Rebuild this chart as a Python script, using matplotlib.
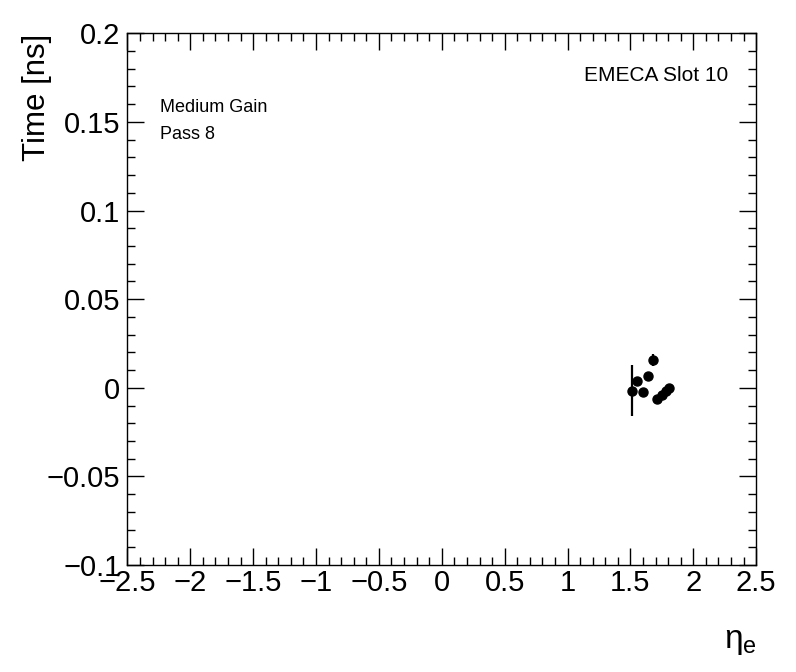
import numpy as np
import matplotlib
matplotlib.use("Agg")
from matplotlib import pyplot as plt
from matplotlib.ticker import MultipleLocator

# eta bins and timing values
eta = [1.513, 1.556, 1.599, 1.641, 1.678, 1.715, 1.750, 1.784, 1.810]
temps = [-0.0017, 0.0036, -0.0023, 0.0066, 0.0156, -0.0062, -0.0041, -0.0019, 0.0000]
erreur = [0.0144, 0.0015, 0.0015, 0.0015, 0.0034, 0.0012, 0.0012, 0.0012, 0.0012]

plt.rcParams['font.family'] = ['Liberation Sans', 'DejaVu Sans']
plt.rcParams['axes.unicode_minus'] = True
plt.rcParams['mathtext.fontset'] = 'custom'
plt.rcParams['mathtext.rm'] = 'Liberation Sans'
plt.rcParams['mathtext.it'] = 'Liberation Sans'

fig = plt.figure(figsize=(7.96, 6.72), dpi=100)
ax = fig.add_axes([0.160, 0.1592, 0.790, 0.7912])

ax.errorbar(eta, temps, yerr=erreur, fmt='o', color='black',
            markersize=6.5, elinewidth=1.6, capsize=0)

ax.set_xlim(-2.5, 2.5)
ax.set_ylim(-0.1, 0.2)
ax.xaxis.set_major_locator(MultipleLocator(0.5))
ax.xaxis.set_minor_locator(MultipleLocator(0.1))
ax.yaxis.set_major_locator(MultipleLocator(0.05))
ax.yaxis.set_minor_locator(MultipleLocator(0.01))
ax.tick_params(which='both', direction='in', top=True, right=True,
               width=1, labelsize=21)
ax.tick_params(which='major', length=12)
ax.tick_params(which='minor', length=6)
ax.tick_params(axis='y', pad=5)
ax.tick_params(axis='x', pad=3)

def fmt(v, pos):
    s = ('%.2f' % v).rstrip('0').rstrip('.')
    if s in ('-0', ''):
        s = '0'
    return s.replace('-', '\u2212')

ax.xaxis.set_major_formatter(plt.FuncFormatter(fmt))
ax.yaxis.set_major_formatter(plt.FuncFormatter(fmt))

for s in ax.spines.values():
    s.set_linewidth(1)

ax.set_ylabel('Time [ns]', fontsize=22.5, loc='top')
ax.yaxis.set_label_coords(-0.12, 1.0)
ax.set_xlabel(r'$\eta_{e}$', fontsize=24, loc='right')
ax.xaxis.set_label_coords(1.0, -0.115)

ax.text(0.0517, 0.861, 'Medium Gain', transform=ax.transAxes,
        fontsize=13, va='center')
ax.text(0.0517, 0.809, 'Pass 8', transform=ax.transAxes,
        fontsize=13, va='center')
ax.text(0.955, 0.9216, 'EMECA Slot 10', transform=ax.transAxes,
        fontsize=15, va='center', ha='right')

fig.savefig('out.png', dpi=100)
